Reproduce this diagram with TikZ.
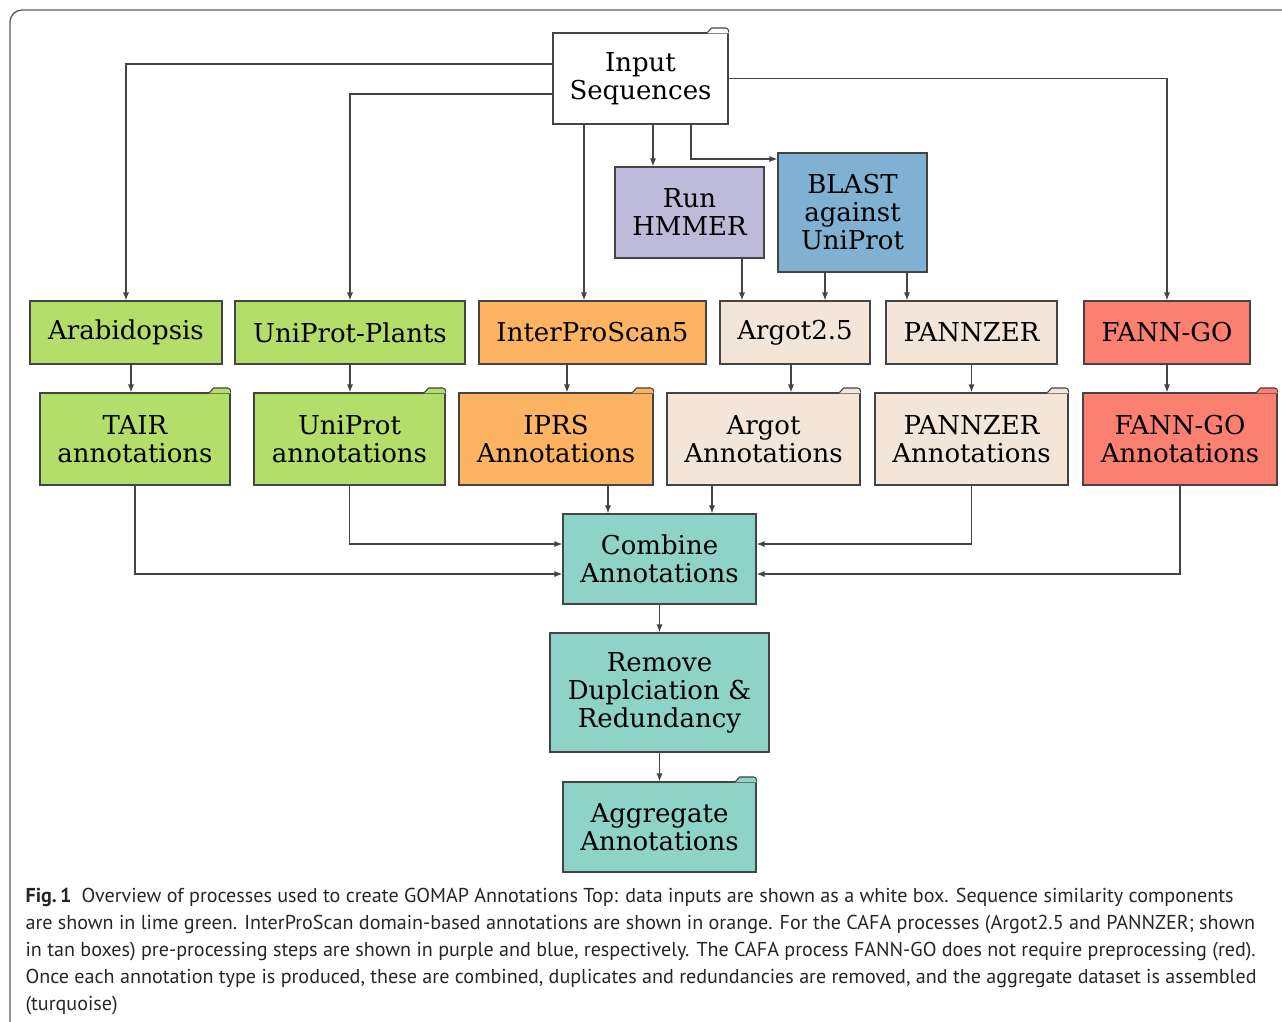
\documentclass[tikz,border=0pt]{standalone}
\usepackage{fontspec}
\setmainfont{DejaVu Serif}
\newfontfamily\capfont{PT Sans}
\usetikzlibrary{arrows.meta}
\definecolor{edgecol}{HTML}{444444}
\definecolor{limeg}{HTML}{B3DE69}
\definecolor{orangeb}{HTML}{FDB462}
\definecolor{purpleb}{HTML}{BEBADA}
\definecolor{blueb}{HTML}{80B1D3}
\definecolor{tanb}{HTML}{F3E6D8}
\definecolor{redb}{HTML}{FB8072}
\definecolor{turqb}{HTML}{8DD3C7}
\begin{document}
\begin{tikzpicture}[x=1pt, y=-1pt, >={Latex[length=8pt,width=6pt]}, line width=1.1pt,
  box/.style={draw=edgecol, align=center, inner sep=0pt, font=\fontsize{26}{28}\selectfont},
  conn/.style={->, draw=edgecol}]
\useasboundingbox (0,0) rectangle (1282,1021);
\begin{scope}
\clip (0,0) rectangle (1282,1021);
\draw[gray!70!black, line width=1.3pt, rounded corners=12pt] (10,10) rectangle (1320,1060);
\end{scope}
% inputs and preprocessing
\node[box, fill=white, minimum width=175, minimum height=91] (inp) at (640.5,78.5) {Input\\Sequences};
\node[box, fill=purpleb, minimum width=149, minimum height=91] (hmm) at (689.5,212.5) {Run\\HMMER};
\node[box, fill=blueb, minimum width=149, minimum height=119] (blast) at (852.5,212.5) {BLAST\\against\\UniProt};
% methods
\node[box, fill=limeg, minimum width=192, minimum height=63] (arab) at (126,332.5) {Arabidopsis};
\node[box, fill=limeg, minimum width=230, minimum height=63] (upl) at (350,332.5) {UniProt-Plants};
\node[box, fill=orangeb, minimum width=227, minimum height=63] (ips) at (592.5,332.5) {InterProScan5};
\node[box, fill=tanb, minimum width=150, minimum height=63] (argot) at (795,332.5) {Argot2.5};
\node[box, fill=tanb, minimum width=171, minimum height=63] (pann) at (971.5,332.5) {PANNZER};
\node[box, fill=redb, minimum width=166, minimum height=63] (fann) at (1167,332.5) {FANN-GO};
% annotation sets
\node[box, fill=limeg, minimum width=190, minimum height=92] (tair) at (135,439) {TAIR\\annotations};
\node[box, fill=limeg, minimum width=191, minimum height=92] (upann) at (349.5,439) {UniProt\\annotations};
\node[box, fill=orangeb, minimum width=194, minimum height=92] (iprs) at (556,439) {IPRS\\Annotations};
\node[box, fill=tanb, minimum width=193, minimum height=92] (argann) at (763.5,439) {Argot\\Annotations};
\node[box, fill=tanb, minimum width=193, minimum height=92] (pannann) at (971.5,439) {PANNZER\\Annotations};
\node[box, fill=redb, minimum width=194, minimum height=92] (fannann) at (1180,439) {FANN-GO\\Annotations};
% post-processing
\node[box, fill=turqb, minimum width=193, minimum height=90] (comb) at (659.5,559) {Combine\\Annotations};
\node[box, fill=turqb, minimum width=219, minimum height=119] (rem) at (659.5,692.5) {Remove\\Duplciation \&\\Redundancy};
\node[box, fill=turqb, minimum width=193, minimum height=90] (aggr) at (659.5,827) {Aggregate\\Annotations};
% folder tabs
\foreach \n/\c in {inp/white, tair/limeg, upann/limeg, iprs/orangeb, argann/tanb, pannann/tanb, fannann/redb, aggr/turqb} {
  \fill[\c] ([xshift=-21pt,yshift=-1pt]\n.north east) -- ([xshift=-21pt]\n.north east) -- ([xshift=-17pt,yshift=4.5pt]\n.north east)
    -- ([xshift=-3pt,yshift=4.5pt]\n.north east) -- ([yshift=1.5pt]\n.north east) -- ([yshift=-1pt]\n.north east) -- cycle;
  \draw[edgecol, line join=round] ([xshift=-21pt]\n.north east) -- ([xshift=-17pt,yshift=4.5pt]\n.north east)
    -- ([xshift=-3pt,yshift=4.5pt]\n.north east) to[out=0,in=90] ([yshift=1.5pt]\n.north east) -- (\n.north east);
}
% from the input
\draw[conn] ([yshift=14.5pt]inp.west) -| (arab.north);
\draw[conn] ([yshift=-15.5pt]inp.west) -| (upl.north);
\draw[conn] ([xshift=-56.5pt]inp.south) -- ([xshift=-56.5pt]inp.south |- ips.north);
\draw[conn] ([xshift=12.5pt]inp.south) -- ([xshift=12.5pt]inp.south |- hmm.north);
\draw[conn] ([xshift=50.5pt]inp.south) |- ([yshift=53.5pt]blast.west);
\draw[conn] (inp.east) -| (fann.north);
\draw[conn] ([xshift=52.5pt]hmm.south) -- ([xshift=52.5pt]hmm.south |- argot.north);
\draw[conn] ([xshift=-27.5pt]blast.south) -- ([xshift=-27.5pt]blast.south |- argot.north);
\draw[conn] ([xshift=54.5pt]blast.south) -- ([xshift=54.5pt]blast.south |- pann.north);
% methods to annotations
\draw[conn] ([xshift=5pt]arab.south) -- ([xshift=5pt]arab.south |- tair.north);
\draw[conn] (upl.south) -- (upl.south |- upann.north);
\draw[conn] ([xshift=-25.5pt]ips.south) -- ([xshift=-25.5pt]ips.south |- iprs.north);
\draw[conn] ([xshift=-4pt]argot.south) -- ([xshift=-4pt]argot.south |- argann.north);
\draw[conn] (pann.south) -- (pannann.north);
\draw[conn] (fann.south) -- (fann.south |- fannann.north);
% combine
\draw[conn] (tair.south) |- ([yshift=-15pt]comb.west);
\draw[conn] (upann.south) |- ([yshift=15pt]comb.west);
\draw[conn] ([xshift=52pt]iprs.south) -- ([xshift=52pt]iprs.south |- comb.north);
\draw[conn] ([xshift=-51.5pt]argann.south) -- ([xshift=-51.5pt]argann.south |- comb.north);
\draw[conn] (pannann.south) |- ([yshift=15pt]comb.east);
\draw[conn] (fannann.south) |- ([yshift=-15pt]comb.east);
\draw[conn] (comb) -- (rem);
\draw[conn] (rem) -- (aggr);
% caption
\node[anchor=north west, align=left, inner sep=0pt, font=\capfont\fontsize{20.1}{26.8}\selectfont, text=black!85] (cap) at (25,888)
{\textbf{Fig.\,1}\enspace Overview of processes used to create GOMAP Annotations Top: data inputs are shown as a white box. Sequence similarity components\\
are shown in lime green. InterProScan domain-based annotations are shown in orange. For the CAFA processes (Argot2.5 and PANNZER; shown\\
in tan boxes) pre-processing steps are shown in purple and blue, respectively. The CAFA process FANN-GO does not require preprocessing (red).\\
Once each annotation type is produced, these are combined, duplicates and redundancies are removed, and the aggregate dataset is assembled\\
(turquoise)};
\end{tikzpicture}
\end{document}
